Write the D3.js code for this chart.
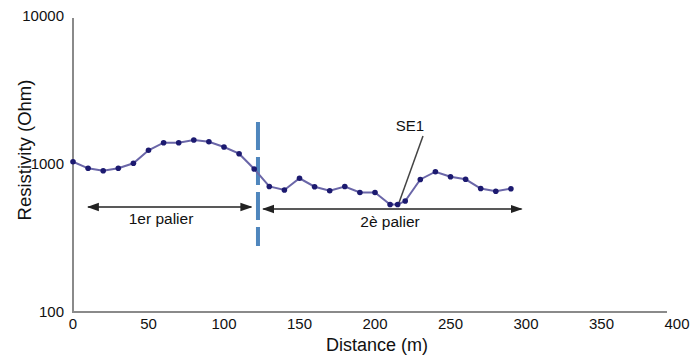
<!DOCTYPE html>
<html>
<head>
<meta charset="utf-8">
<script src="https://cdn.jsdelivr.net/npm/d3@7"></script>
<style>
	body { margin: 0; background: #fff; }
	text { font-family: "Liberation Sans", Arial, sans-serif; }
</style>
</head>
<body>
<div id="chart"></div>
<script>
// Global variables
var width = 692,
	height = 357,
	svg, x, y;

// Data
var distance = [0, 10, 20, 30, 40, 50, 60, 70, 80, 90, 100, 110, 120,
	130, 140, 150, 160, 170, 180, 190, 200, 210, 215, 220,
	230, 240, 250, 260, 270, 280, 290];
var resistivity = [1036, 935, 901, 935, 1011, 1238, 1393, 1393, 1452, 1415, 1303, 1174, 925,
	705, 667, 801, 702, 659, 705, 642, 642, 533, 533, 562,
	786, 887, 821, 788, 683, 654, 681];
var xTicks = [0, 50, 100, 150, 200, 250, 300, 350, 400];
var yTicks = [100, 1000, 10000];
var paliers = [
	{ label: "1er palier", from: 10, to: 118 },
	{ label: "2è palier", from: 126, to: 297 }
];
var boundary = 122.5;
var se1 = 215;

function init() {
	svg = d3.select("#chart")
		.append("svg")
		.attr("width", width)
		.attr("height", height);

	x = d3.scaleLinear().domain([0, 400]).range([73, 677]);
	y = d3.scaleLog().domain([100, 10000]).range([312, 16]);

	drawAxes();
	drawAnnotations();
	drawSeries();
}

function drawAxes() {
	var axes = svg.append("g");

	// y axis line + x axis line
	axes.append("line")
		.attr("x1", x(0)).attr("x2", x(0))
		.attr("y1", y(10000) + 2).attr("y2", y(100) + 1)
		.attr("stroke", "#8a8a8a").attr("stroke-width", 2);
	axes.append("line")
		.attr("x1", x(0) - 1).attr("x2", x(400) - 10)
		.attr("y1", y(100)).attr("y2", y(100))
		.attr("stroke", "#8a8a8a").attr("stroke-width", 2);

	axes.selectAll(".xt")
		.data(xTicks)
		.enter().append("text")
		.attr("class", "xt")
		.attr("x", function(d) { return x(d); })
		.attr("y", y(100) + 17)
		.attr("text-anchor", "middle")
		.attr("font-size", 15)
		.attr("fill", "#111")
		.text(function(d) { return d; });

	axes.selectAll(".yt")
		.data(yTicks)
		.enter().append("text")
		.attr("class", "yt")
		.attr("x", 64)
		.attr("y", function(d) { return y(d) + 5; })
		.attr("text-anchor", "end")
		.attr("font-size", 15)
		.attr("fill", "#111")
		.text(function(d) { return d; });

	axes.append("text")
		.attr("x", 377)
		.attr("y", 351)
		.attr("text-anchor", "middle")
		.attr("font-size", 18)
		.attr("fill", "#111")
		.text("Distance (m)");

	axes.append("text")
		.attr("transform", "translate(31,150) rotate(-90)")
		.attr("text-anchor", "middle")
		.attr("font-size", 18.5)
		.attr("fill", "#111")
		.text("Resistivity (Ohm)");
}

function drawAnnotations() {
	var defs = svg.append("defs");
	defs.append("marker")
		.attr("id", "head")
		.attr("viewBox", "0 0 10 10")
		.attr("refX", 9).attr("refY", 5)
		.attr("markerWidth", 8).attr("markerHeight", 8)
		.attr("orient", "auto-start-reverse")
		.append("path")
		.attr("d", "M0,1.5 L10,5 L0,8.5 Z")
		.attr("fill", "#222");

	var ann = svg.append("g");

	// palier arrows
	ann.selectAll(".arrow")
		.data(paliers)
		.enter().append("line")
		.attr("x1", function(d) { return x(d.from); })
		.attr("x2", function(d) { return x(d.to); })
		.attr("y1", function(d, i) { return i ? 209 : 207; })
		.attr("y2", function(d, i) { return i ? 209 : 207; })
		.attr("stroke", "#222")
		.attr("stroke-width", 1.5)
		.attr("marker-start", "url(#head)")
		.attr("marker-end", "url(#head)");

	ann.selectAll(".plabel")
		.data(paliers)
		.enter().append("text")
		.attr("x", function(d, i) { return i ? 390 : 161; })
		.attr("y", function(d, i) { return i ? 227 : 224; })
		.attr("text-anchor", "middle")
		.attr("font-size", 15.5)
		.attr("fill", "#111")
		.text(function(d) { return d.label; });

	// dashed boundary
	ann.append("line")
		.attr("x1", x(boundary)).attr("x2", x(boundary))
		.attr("y1", 122).attr("y2", 246)
		.attr("stroke", "#4f86bd")
		.attr("stroke-width", 4)
		.attr("stroke-dasharray", "28,7");

	// SE1 callout
	ann.append("line")
		.attr("x1", 423).attr("y1", 136)
		.attr("x2", x(se1)).attr("y2", y(533) + 2)
		.attr("stroke", "#444")
		.attr("stroke-width", 1.5);
	ann.append("text")
		.attr("x", 410)
		.attr("y", 131)
		.attr("text-anchor", "middle")
		.attr("font-size", 15)
		.attr("fill", "#111")
		.text("SE1");
}

function drawSeries() {
	var pts = distance.map(function(d, i) { return [d, resistivity[i]]; });
	var line = d3.line()
		.x(function(d) { return x(d[0]); })
		.y(function(d) { return y(d[1]); });

	svg.append("path")
		.datum(pts)
		.attr("d", line)
		.attr("fill", "none")
		.attr("stroke", "#6a66a8")
		.attr("stroke-width", 2);

	svg.selectAll(".dot")
		.data(pts)
		.enter().append("circle")
		.attr("cx", function(d) { return x(d[0]); })
		.attr("cy", function(d) { return y(d[1]); })
		.attr("r", 2.8)
		.attr("fill", "#1c1a70");
}

window.onload = init;
</script>
</body>
</html>
